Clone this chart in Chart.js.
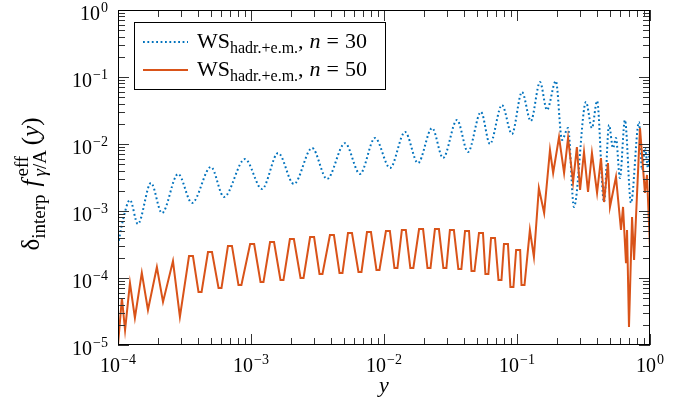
<!DOCTYPE html>
<html>
<head>
<meta charset="utf-8">
<script src="https://cdn.jsdelivr.net/npm/chart.js@4/dist/chart.umd.min.js"></script>
<style>
  html, body { margin: 0; padding: 0; background: #fff; }
  #wrap { width: 694px; height: 404px; }
</style>
</head>
<body>
<div id="wrap"><canvas id="chart" width="694" height="404"></canvas></div>
<script>
// decade exponents for the tick labels
const xTickExps = [-4, -3, -2, -1, 0];
const yTickExps = [-5, -4, -3, -2, -1, 0];
const seriesN = ['30', '50'];

// WS hadr.+e.m., n = 30 (blue, dotted)
const blueX = [1.00e-4, 1.09e-4, 1.23e-4, 1.41e-4, 1.77e-4, 2.14e-4, 2.83e-4, 3.60e-4, 5.00e-4, 6.26e-4,
  9.01e-4, 1.21e-3, 1.60e-3, 2.10e-3, 2.88e-3, 3.73e-3, 5.09e-3, 6.60e-3, 8.56e-3, 1.11e-2,
  1.44e-2, 1.80e-2, 2.30e-2, 2.78e-2, 3.54e-2, 4.28e-2, 5.36e-2, 6.26e-2, 7.71e-2, 9.16e-2,
  0.109, 0.127, 0.149, 0.168, 0.196, 0.218, 0.242, 0.268, 0.330, 0.366,
  0.400, 0.451, 0.492, 0.527, 0.555, 0.594, 0.648, 0.719, 0.826, 0.871,
  0.916, 0.966, 1.0];
const blueY = [3.11e-4, 7.34e-4, 1.46e-3, 6.40e-4, 2.62e-3, 9.33e-4, 3.57e-3, 1.32e-3, 4.54e-3, 1.62e-3,
  5.97e-3, 2.13e-3, 7.34e-3, 2.53e-3, 8.71e-3, 3.01e-3, 1.03e-2, 3.57e-3, 1.23e-2, 4.39e-3,
  1.51e-2, 5.20e-3, 1.73e-2, 6.18e-3, 2.28e-2, 7.60e-3, 3.01e-2, 1.00e-2, 3.82e-2, 1.41e-2,
  5.97e-2, 2.20e-2, 8.42e-2, 3.22e-2, 8.71e-2, 1.15e-2, 1.73e-2, 1.15e-3, 4.24e-2, 1.73e-2,
  4.38e-2, 1.36e-3, 1.92e-2, 8.71e-3, 1.23e-2, 3.11e-3, 2.28e-2, 1.32e-3, 2.13e-2, 4.09e-3,
  8.71e-3, 4.39e-3, 9.66e-3];

// WS hadr.+e.m., n = 50 (orange, solid); flat tops/bottoms are pairs of samples
const orangeX = [1.00e-4, 1.07e-4, 1.13e-4, 1.23e-4, 1.34e-4, 1.51e-4, 1.68e-4, 1.96e-4, 2.18e-4, 2.59e-4, 2.92e-4,
  3.42e-4, 3.66e-4, 4.03e-4, 4.25e-4, 4.75e-4, 5.09e-4, 5.70e-4, 6.00e-4, 6.71e-4, 7.19e-4,
  8.05e-4, 8.47e-4, 9.85e-4, 1.056e-3, 1.179e-3, 1.241e-3, 1.391e-3, 1.490e-3, 1.666e-3, 1.754e-3,
  1.961e-3, 2.101e-3, 2.357e-3, 2.483e-3, 2.782e-3, 2.981e-3, 3.273e-3, 3.447e-3, 3.922e-3, 4.202e-3,
  4.627e-3, 4.874e-3, 5.361e-3, 5.744e-3, 6.428e-3, 6.772e-3, 7.448e-3, 7.980e-3, 8.776e-3, 9.244e-3,
  1.034e-2, 1.107e-2, 1.198e-2, 1.262e-2, 1.362e-2, 1.459e-2, 1.578e-2, 1.662e-2, 1.835e-2, 1.967e-2,
  2.123e-2, 2.237e-2, 2.415e-2, 2.588e-2, 2.795e-2, 2.945e-2, 3.130e-2, 3.353e-2, 3.623e-2, 3.817e-2,
  4.067e-2, 4.357e-2, 4.549e-2, 4.791e-2, 5.178e-2, 5.548e-2, 5.786e-2, 6.094e-2, 6.376e-2, 6.831e-2,
  7.256e-2, 7.644e-2, 7.979e-2, 8.549e-2, 8.922e-2, 9.398e-2, 0.0985, 0.1056, 0.1081, 0.1139,
  0.125, 0.134, 0.146, 0.160, 0.177, 0.187, 0.207, 0.226, 0.242, 0.264,
  0.282, 0.298, 0.319, 0.342, 0.366, 0.400, 0.428, 0.451, 0.483, 0.500,
  0.555, 0.605, 0.627, 0.660, 0.672, 0.695, 0.733, 0.759, 0.841, 0.916,
  0.949, 1.0];
const orangeY = [1.00e-5, 5.03e-5, 1.67e-5, 8.42e-5, 2.53e-5, 1.19e-4, 3.33e-5, 1.46e-4, 4.39e-5, 1.79e-4, 2.62e-5,
  2.13e-4, 2.13e-4, 6.18e-5, 6.18e-5, 2.44e-4, 2.44e-4, 7.09e-5, 7.09e-5, 3.01e-4, 3.01e-4,
  7.86e-5, 7.86e-5, 3.22e-4, 3.22e-4, 8.71e-5, 8.71e-5, 3.44e-4, 3.44e-4, 9.33e-5, 9.33e-5,
  3.82e-4, 3.82e-4, 1.00e-4, 1.00e-4, 4.09e-4, 4.09e-4, 1.15e-4, 1.15e-4, 4.38e-4, 4.38e-4,
  1.19e-4, 1.19e-4, 4.70e-4, 4.70e-4, 1.23e-4, 1.23e-4, 4.86e-4, 4.86e-4, 1.32e-4, 1.32e-4,
  5.03e-4, 5.03e-4, 1.41e-4, 1.41e-4, 5.20e-4, 5.20e-4, 1.41e-4, 1.41e-4, 5.38e-4, 5.38e-4,
  1.41e-4, 1.41e-4, 5.38e-4, 5.38e-4, 1.41e-4, 1.41e-4, 5.20e-4, 5.20e-4, 1.36e-4, 1.36e-4,
  5.03e-4, 5.03e-4, 1.27e-4, 1.27e-4, 4.70e-4, 4.70e-4, 1.15e-4, 1.15e-4, 3.95e-4, 3.95e-4,
  9.33e-5, 9.33e-5, 3.22e-4, 3.22e-4, 7.34e-5, 7.34e-5, 2.62e-4, 2.62e-4, 7.86e-5, 7.86e-5,
  5.20e-4, 2.06e-4, 2.20e-3, 9.33e-4, 8.13e-3, 3.69e-3, 1.27e-2, 3.69e-3, 1.23e-2, 2.71e-3,
  9.01e-3, 2.06e-3, 7.60e-3, 1.92e-3, 7.34e-3, 1.86e-3, 6.18e-3, 1.36e-3, 5.20e-3, 1.15e-3,
  3.22e-3, 5.20e-4, 1.15e-3, 1.67e-4, 5.20e-4, 1.86e-5, 8.13e-4, 1.86e-4, 1.73e-2, 1.86e-3,
  3.45e-3, 2.90e-4];

const BLUE = '#0072BD';
const ORANGE = '#D95319';
const DOTS = [1.8, 2.6];
const SERIF = '"Liberation Serif", "DejaVu Serif", serif';

// draws a list of text runs starting at x; returns end x
function drawRuns(ctx, runs, x, y, measureOnly) {
  let cx = x;
  for (const r of runs) {
    ctx.font = r.font;
    if (!measureOnly) ctx.fillText(r.t, cx, y + (r.dy || 0));
    cx += ctx.measureText(r.t).width + (r.gap || 0);
  }
  return cx;
}

function powRuns(exp) {
  const sup = exp === 0 ? '0' : '\u2212' + Math.abs(exp);
  return [
    { t: '10', font: '20px ' + SERIF, gap: 1 },
    { t: sup, font: '14px ' + SERIF, dy: -8 }
  ];
}

const pgfAxes = {
  id: 'pgfAxes',
  afterDraw(chart) {
    const { ctx, chartArea: a, scales: { x, y } } = chart;
    ctx.save();

    // inward ticks on all four sides
    ctx.strokeStyle = '#333';
    ctx.lineWidth = 1;
    ctx.beginPath();
    const xt = [], yt = [];
    xTickExps.forEach((e, i) => {
      xt.push([Math.pow(10, e), 11]);
      if (i < xTickExps.length - 1) for (let k = 2; k <= 9; k++) xt.push([k * Math.pow(10, e), 7]);
    });
    yTickExps.forEach((e, i) => {
      yt.push([Math.pow(10, e), 11]);
      if (i < yTickExps.length - 1) for (let k = 2; k <= 9; k++) yt.push([k * Math.pow(10, e), 7]);
    });
    xt.forEach(([v, len]) => {
      const px = Math.round(x.getPixelForValue(v)) + 0.5;
      ctx.moveTo(px, a.bottom); ctx.lineTo(px, a.bottom - len);
      ctx.moveTo(px, a.top); ctx.lineTo(px, a.top + len);
    });
    yt.forEach(([v, len]) => {
      const py = Math.round(y.getPixelForValue(v)) + 0.5;
      ctx.moveTo(a.left, py); ctx.lineTo(a.left + len, py);
      ctx.moveTo(a.right, py); ctx.lineTo(a.right - len, py);
    });
    ctx.stroke();

    // frame
    ctx.strokeStyle = '#000';
    ctx.strokeRect(Math.round(a.left) + 0.5, Math.round(a.top) + 0.5,
      Math.round(a.right - a.left) - 1, Math.round(a.bottom - a.top) - 1);

    // tick labels
    ctx.fillStyle = '#000';
    ctx.textBaseline = 'alphabetic';
    ctx.textAlign = 'left';
    xTickExps.forEach(e => {
      const px = x.getPixelForValue(Math.pow(10, e));
      const runs = powRuns(e);
      const w = drawRuns(ctx, runs, 0, 0, true);
      drawRuns(ctx, runs, px - w / 2, a.bottom + 27);
    });
    yTickExps.forEach(e => {
      const py = y.getPixelForValue(Math.pow(10, e));
      const runs = powRuns(e);
      const w = drawRuns(ctx, runs, 0, 0, true);
      drawRuns(ctx, runs, a.left - 10 - w, py + 10);
    });

    // x axis title
    ctx.font = 'italic 22px ' + SERIF;
    ctx.textAlign = 'center';
    ctx.fillText('y', (a.left + a.right) / 2, 392);
    ctx.textAlign = 'left';

    // y axis title, rotated
    ctx.save();
    ctx.translate(39, 184);
    ctx.rotate(-Math.PI / 2);
    const big = '25px ' + SERIF, small = '19px ' + SERIF;
    const pre = [
      { t: '\u03b4', font: big },
      { t: 'interp', font: small, dy: 6, gap: 8 },
      { t: 'f', font: 'italic ' + big, gap: 3 }
    ];
    ctx.font = small;
    const stackW = Math.max(ctx.measureText('eff').width, ctx.measureText('\u03b3/A').width) + 4;
    const post = [
      { t: '(', font: big },
      { t: 'y', font: 'italic ' + big },
      { t: ')', font: big }
    ];
    const total = drawRuns(ctx, pre, 0, 0, true) + stackW + drawRuns(ctx, post, 0, 0, true);
    const cx = drawRuns(ctx, pre, -total / 2, 0);
    ctx.font = small;
    ctx.fillText('eff', cx, -11);
    drawRuns(ctx, [{ t: '\u03b3', font: 'italic ' + small }, { t: '/A', font: small }], cx, 7);
    drawRuns(ctx, post, cx + stackW, 0);
    ctx.restore();

    // legend
    const lx = 134, ly = 22, lw = 251, lh = 67;
    const lbig = '22px ' + SERIF;
    ctx.fillStyle = '#fff';
    ctx.fillRect(lx, ly, lw, lh);
    ctx.strokeStyle = '#000';
    ctx.lineWidth = 1;
    ctx.strokeRect(lx + 0.5, ly + 0.5, lw, lh);
    const rows = [
      { color: BLUE, dash: DOTS, y: 42 },
      { color: ORANGE, dash: [], y: 70 }
    ];
    rows.forEach((r, i) => {
      ctx.strokeStyle = r.color;
      ctx.lineWidth = 2;
      ctx.setLineDash(r.dash);
      ctx.beginPath();
      ctx.moveTo(143, r.y); ctx.lineTo(188, r.y);
      ctx.stroke();
      ctx.setLineDash([]);
      ctx.fillStyle = '#000';
      drawRuns(ctx, [
        { t: 'WS', font: lbig },
        { t: 'hadr.+e.m.', font: '16px ' + SERIF, dy: 5 },
        { t: ',', font: lbig, gap: 6 },
        { t: 'n', font: 'italic ' + lbig, gap: 6 },
        { t: '=', font: lbig, gap: 6 },
        { t: seriesN[i], font: lbig }
      ], 197, r.y + 6);
    });

    ctx.restore();
  }
};

const toPoints = (xs, ys) => xs.map((v, i) => ({ x: v, y: ys[i] }));

new Chart(document.getElementById('chart').getContext('2d'), {
  type: 'line',
  data: {
    datasets: [
      {
        label: 'n = 30',
        data: toPoints(blueX, blueY),
        borderColor: BLUE,
        borderWidth: 2,
        borderDash: DOTS,
        pointRadius: 0,
        cubicInterpolationMode: 'monotone',
        fill: false,
        order: 1
      },
      {
        label: 'n = 50',
        data: toPoints(orangeX, orangeY),
        borderColor: ORANGE,
        borderWidth: 2,
        pointRadius: 0,
        tension: 0,
        fill: false,
        order: 0
      }
    ]
  },
  options: {
    responsive: false,
    animation: false,
    devicePixelRatio: 1,
    layout: { padding: { left: 118, right: 44, top: 10, bottom: 59 } },
    plugins: { legend: { display: false }, tooltip: { enabled: false } },
    scales: {
      x: { type: 'logarithmic', min: 1e-4, max: 1, display: false },
      y: { type: 'logarithmic', min: 1e-5, max: 1, display: false }
    }
  },
  plugins: [pgfAxes]
});
</script>
</body>
</html>
